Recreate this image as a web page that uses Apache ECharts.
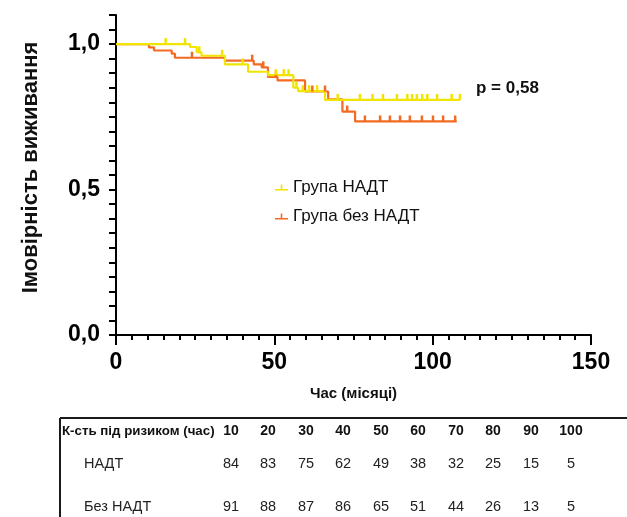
<!DOCTYPE html>
<html>
<head>
<meta charset="utf-8">
<script src="https://cdn.jsdelivr.net/npm/echarts@6/dist/echarts.min.js"></script>
<style>
html,body{margin:0;padding:0;background:#fff;}
#chart{width:627px;height:517px;}
</style>
</head>
<body>
<div id="chart"></div>
<script>
// ---- data ----
const seriesNames = ['Група НАДТ', 'Група без НАДТ'];
const timesNADT = [0, 23.4, 25.5, 27, 34.4, 41.7, 48, 56, 57.5, 66, 108.6];
const survNADT  = [1, 0.99, 0.972, 0.96, 0.93, 0.905, 0.893, 0.85, 0.838, 0.808, 0.808];
const censorNADT = [15.7, 21.8, 26.3, 33.5, 40, 50.5, 53, 54.5, 57, 59, 61, 63.5, 70, 77, 81, 84.3, 88.7, 92, 93.5, 95, 96.7, 98.3, 101.4, 106, 108.6];
const timesNoNADT = [0, 10.4, 12, 17.6, 18.6, 34.4, 43.5, 46, 48, 51, 59.7, 67, 71.5, 75.5, 107.6];
const survNoNADT  = [1, 0.989, 0.978, 0.967, 0.953, 0.943, 0.93, 0.92, 0.887, 0.875, 0.837, 0.81, 0.768, 0.734, 0.734];
const censorNoNADT = [24, 43, 46.5, 50.5, 62, 66, 73, 78.6, 83.4, 86.5, 89.7, 92.8, 96.6, 100.1, 103.3, 107.1];
const pValueText = 'p = 0,58';
const riskHeader = 'К-сть під ризиком (час)';
const riskTimes = [10, 20, 30, 40, 50, 60, 70, 80, 90, 100];
const riskRowLabels = ['НАДТ', 'Без НАДТ'];
const riskNADT = [84, 83, 75, 62, 49, 38, 32, 25, 15, 5];
const riskNoNADT = [91, 88, 87, 86, 65, 51, 44, 26, 13, 5];
const xTickLabels = [0, 50, 100, 150];
const yTickLabels = [0, 0.5, 1.0];

// ---- styling ----
const FONT = '"Liberation Sans", Arial, sans-serif';
const YELLOW = '#f0e400';
const ORANGE = '#f36b22';

function stepValue(times, surv, t) {
  let v = surv[0];
  for (let i = 0; i < times.length; i++) { if (times[i] <= t) v = surv[i]; }
  return v;
}
function pairs(times, surv) { return times.map((t, i) => [t, surv[i]]); }
function censorPts(ct, times, surv) { return ct.map(t => [t, stepValue(times, surv, t)]); }

function censorSeries(name, data, color) {
  return {
    type: 'custom', name: name, data: data, silent: true, z: 4,
    renderItem: function (params, api) {
      const p = api.coord([api.value(0), api.value(1)]);
      return { type: 'rect', shape: { x: p[0] - 1.25, y: p[1] - 6, width: 2.5, height: 6 }, style: { fill: color } };
    }
  };
}

// table graphics
const colX = [231, 268, 306, 343, 381, 418, 456, 493, 531, 571];
const TF = 14.5;
const tableG = [];
tableG.push({ type: 'line', shape: { x1: 60, y1: 418, x2: 627, y2: 418 }, style: { stroke: '#1a1a1a', lineWidth: 2 } });
tableG.push({ type: 'line', shape: { x1: 60, y1: 418, x2: 60, y2: 517 }, style: { stroke: '#1a1a1a', lineWidth: 2 } });
tableG.push({ type: 'text', x: 62, y: 431, style: { text: riskHeader, font: 'bold 13.3px ' + FONT, fill: '#111', textVerticalAlign: 'middle' } });
riskTimes.forEach((t, i) => {
  tableG.push({ type: 'text', x: colX[i], y: 431, style: { text: String(t), font: 'bold 14px ' + FONT, fill: '#111', textAlign: 'center', textVerticalAlign: 'middle' } });
});
const rowsY = [464, 507];
[riskNADT, riskNoNADT].forEach((row, r) => {
  tableG.push({ type: 'text', x: 84, y: rowsY[r], style: { text: riskRowLabels[r], font: TF + 'px ' + FONT, fill: '#222', textVerticalAlign: 'middle' } });
  row.forEach((v, i) => {
    tableG.push({ type: 'text', x: colX[i], y: rowsY[r], style: { text: String(v), font: TF + 'px ' + FONT, fill: '#222', textAlign: 'center', textVerticalAlign: 'middle' } });
  });
});
tableG.push({ type: 'text', x: 476, y: 88, style: { text: pValueText, font: 'bold 17px ' + FONT, fill: '#111', textVerticalAlign: 'middle' } });

const chart = echarts.init(document.getElementById('chart'), null, { renderer: 'canvas' });
chart.setOption({
  backgroundColor: '#fff',
  animation: false,
  textStyle: { fontFamily: FONT },
  grid: { left: 116, right: 36, top: 15, bottom: 182, containLabel: false },
  legend: {
    orient: 'vertical', left: 275, top: 179, itemGap: 12, padding: 0,
    itemWidth: 13, itemHeight: 6,
    icon: 'path://M0,4.5H13V6H0Z M5.7,0H7.3V4.5H5.7Z',
    itemStyle: { borderWidth: 0 },
    textStyle: { fontSize: 17, color: '#111', fontFamily: FONT },
    data: seriesNames
  },
  xAxis: {
    type: 'value', min: 0, max: 150, interval: 50,
    name: 'Час (місяці)', nameLocation: 'middle', nameGap: 51,
    nameTextStyle: { fontSize: 15, fontWeight: 'bold', color: '#111', fontFamily: FONT },
    axisLine: { show: true, onZero: false, lineStyle: { color: '#000', width: 2 } },
    axisTick: { show: true, length: 10, lineStyle: { color: '#000', width: 2 } },
    minorTick: { show: true, splitNumber: 10, length: 5, lineStyle: { color: '#000', width: 2 } },
    splitLine: { show: false },
    axisLabel: { margin: 16, fontSize: 23, fontWeight: 'bold', color: '#000', fontFamily: FONT,
      formatter: v => xTickLabels.indexOf(Math.round(v)) >= 0 ? String(Math.round(v)) : '' }
  },
  yAxis: {
    type: 'value', min: 0, max: 1.1, interval: 0.05,
    name: 'Імовірність виживання', nameLocation: 'middle', nameGap: 74,
    nameTextStyle: { fontSize: 22, fontWeight: 'bold', color: '#111', fontFamily: FONT, padding: [0, 0, 0, 15] },
    axisLine: { show: true, onZero: false, lineStyle: { color: '#000', width: 2 } },
    axisTick: { show: true, length: 7, lineStyle: { color: '#000', width: 2 } },
    splitLine: { show: false },
    axisLabel: { margin: 16, fontSize: 23, fontWeight: 'bold', color: '#000', fontFamily: FONT,
      formatter: function (v) {
        for (const t of yTickLabels) { if (Math.abs(v - t) < 1e-6) return t.toFixed(1).replace('.', ','); }
        return '';
      } }
  },
  series: [
    { type: 'line', name: seriesNames[1], step: 'end', data: pairs(timesNoNADT, survNoNADT),
      symbol: 'none', lineStyle: { color: ORANGE, width: 2.2 }, itemStyle: { color: ORANGE }, z: 2 },
    { type: 'line', name: seriesNames[0], step: 'end', data: pairs(timesNADT, survNADT),
      symbol: 'none', lineStyle: { color: YELLOW, width: 2.2 }, itemStyle: { color: YELLOW }, z: 3 },
    censorSeries(seriesNames[1], censorPts(censorNoNADT, timesNoNADT, survNoNADT), ORANGE),
    censorSeries(seriesNames[0], censorPts(censorNADT, timesNADT, survNADT), YELLOW)
  ],
  graphic: tableG
});
</script>
</body>
</html>
